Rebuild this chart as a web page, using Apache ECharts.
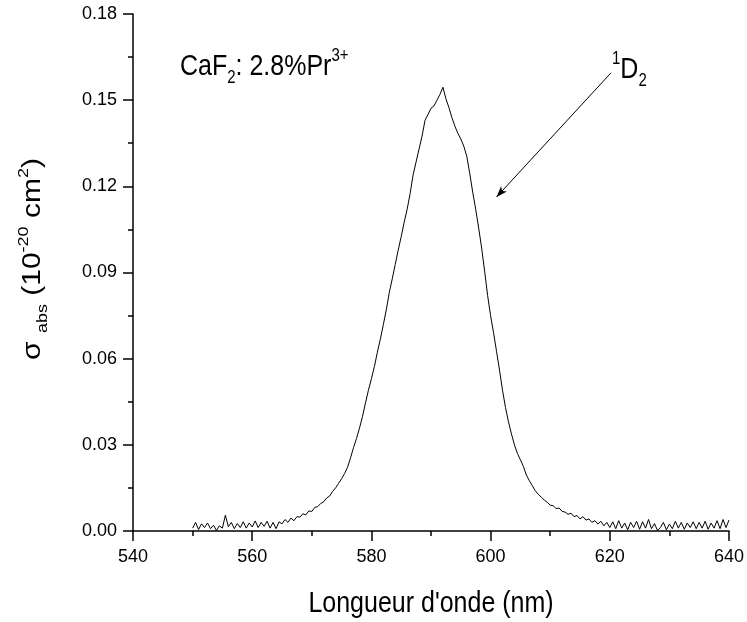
<!DOCTYPE html>
<html>
<head>
<meta charset="utf-8">
<script src="https://cdn.jsdelivr.net/npm/echarts@6/dist/echarts.min.js"></script>
<style>html,body{margin:0;padding:0;background:#fff}#c{width:747px;height:622px}</style>
</head>
<body>
<div id="c"></div>
<script>
// Wavelength sampling grid (nm)
var wlStart = 550, wlStep = 0.5;
// Absorption cross-section (10^-20 cm^2), one value per 0.5 nm, rows of 5 nm
var sigma = [
  .0010,.0030,.0005,.0025,.0012,.0028,.0008,.0020,.0002,.0018, // 550
  .0010,.0055,.0015,.0030,.0008,.0026,.0012,.0032,.0010,.0028, // 555
  .0014,.0035,.0012,.0030,.0016,.0034,.0010,.0030,.0008,.0032, // 560
  .0025,.0040,.0030,.0045,.0036,.0050,.0048,.0060,.0056,.0070, // 565
  .0068,.0082,.0085,.0096,.0102,.0115,.0122,.0138,.0150,.0166, // 570
  .0182,.0200,.0222,.0255,.0290,.0322,.0358,.0398,.0445,.0490, // 575
  .0530,.0572,.0622,.0668,.0718,.0770,.0830,.0878,.0928,.0978, // 580
  .1025,.1075,.1120,.1175,.1240,.1285,.1330,.1375,.1430,.1450, // 585
  .1472,.1480,.1500,.1520,.1545,.1505,.1475,.1440,.1410,.1385, // 590
  .1365,.1340,.1305,.1245,.1180,.1120,.1055,.0985,.0905,.0820, // 595
  .0750,.0690,.0625,.0560,.0490,.0430,.0380,.0338,.0300,.0270, // 600
  .0248,.0225,.0195,.0175,.0158,.0140,.0128,.0118,.0108,.0100, // 605
  .0090,.0088,.0078,.0080,.0068,.0066,.0058,.0062,.0050,.0054, // 610
  .0042,.0050,.0038,.0042,.0030,.0036,.0024,.0034,.0018,.0030, // 615
  .0012,.0032,.0008,.0036,.0010,.0028,.0004,.0030,.0012,.0034, // 620
  .0006,.0032,.0010,.0040,.0008,.0026,.0002,.0012,.0030,.0004, // 625
  .0024,.0008,.0034,.0010,.0030,.0006,.0028,.0012,.0032,.0008, // 630
  .0030,.0010,.0034,.0006,.0028,.0010,.0036,.0008,.0040,.0012, // 635
  .0038 // 640
];
// Axis ticks
var xTicks = [540, 560, 580, 600, 620, 640];
var yTicks = [0.00, 0.03, 0.06, 0.09, 0.12, 0.15, 0.18];
// Arrow annotation (data coordinates): from label 1D2 toward the curve
var arrowFrom = [620.2, 0.1595];
var arrowTo = [601.0, 0.1163];

var data = sigma.map(function (v, i) { return [wlStart + wlStep * i, v]; });
var FONT = 'Liberation Sans, Arial, sans-serif';
var RICH = {
  m: {fontSize: 25, fontFamily: FONT, lineHeight: 34},
  s: {fontSize: 15, fontFamily: FONT, verticalAlign: 'bottom', lineHeight: 22},
  p: {fontSize: 15, fontFamily: FONT, verticalAlign: 'top', lineHeight: 18}
};

var chart = echarts.init(document.getElementById('c'), null, {renderer: 'canvas'});
chart.setOption({
  animation: false,
  backgroundColor: '#fff',
  grid: {left: 133, right: 17, top: 14, bottom: 91, containLabel: false},
  xAxis: {
    type: 'value', min: xTicks[0], max: xTicks[xTicks.length - 1], interval: 20,
    axisLine: {show: true, onZero: false, lineStyle: {color: '#000', width: 1.5}},
    axisTick: {show: true, inside: false, length: 10, lineStyle: {color: '#000', width: 1.5}},
    minorTick: {show: true, splitNumber: 2, length: 5, lineStyle: {color: '#000', width: 1.5}},
    axisLabel: {color: '#000', fontSize: 18, fontFamily: FONT, margin: 17},
    splitLine: {show: false}
  },
  yAxis: {
    type: 'value', min: yTicks[0], max: yTicks[yTicks.length - 1], interval: 0.03,
    axisLine: {show: true, onZero: false, lineStyle: {color: '#000', width: 1.5}},
    axisTick: {show: true, inside: false, length: 10, lineStyle: {color: '#000', width: 1.5}},
    minorTick: {show: true, splitNumber: 2, length: 5, lineStyle: {color: '#000', width: 1.5}},
    axisLabel: {color: '#000', fontSize: 18, fontFamily: FONT, margin: 16,
      formatter: function (v) { return v.toFixed(2); }},
    splitLine: {show: false}
  },
  series: [{
    type: 'line', data: data, symbol: 'none', smooth: false,
    lineStyle: {color: '#000', width: 1},
    markLine: {
      silent: true, symbol: ['none', 'arrow'], symbolSize: [6, 11],
      lineStyle: {color: '#000', width: 1, type: 'solid'},
      label: {show: false},
      data: [[{coord: arrowFrom}, {coord: arrowTo}]]
    }
  }],
  graphic: [
    {type: 'text', x: 431, y: 604, scaleY: 1.2, style: {text: "Longueur d'onde (nm)", fontSize: 25, fontFamily: FONT, fill: '#000', align: 'center', verticalAlign: 'middle'}},
    {type: 'text', x: 33, y: 259, rotation: Math.PI / 2, scaleX: 1.2, style: {
      text: '{m|σ }{s|abs}{m| (10}{p|-20}{m| cm}{p|2}{m|)}',
      fontFamily: FONT, fill: '#000', align: 'center', verticalAlign: 'middle', rich: RICH}},
    {type: 'text', x: 180, y: 67, scaleY: 1.2, style: {
      text: '{m|CaF}{s|2}{m|: 2.8%Pr}{p|3+}',
      fontFamily: FONT, fill: '#000', align: 'left', verticalAlign: 'middle', rich: RICH}},
    {type: 'text', x: 612, y: 70, scaleY: 1.2, style: {
      text: '{p|1}{m|D}{s|2}',
      fontFamily: FONT, fill: '#000', align: 'left', verticalAlign: 'middle', rich: RICH}}
  ]
});
</script>
</body>
</html>
